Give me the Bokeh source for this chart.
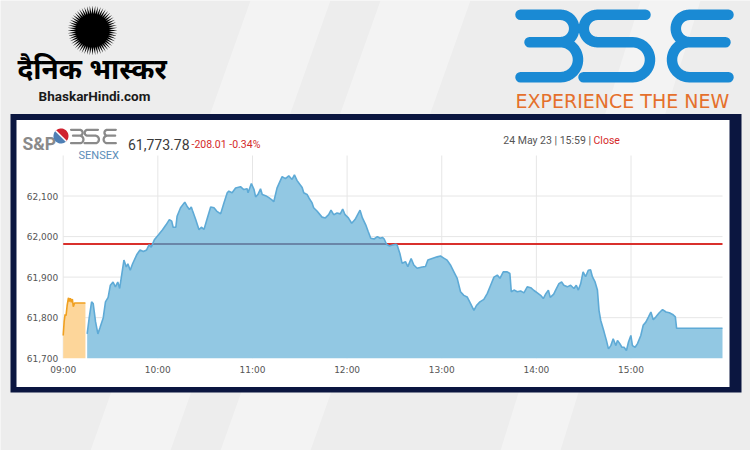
import numpy as np
from bokeh.plotting import figure
from bokeh.models import Range1d, ColumnDataSource
from bokeh.core.properties import value
from bokeh.embed import file_html
from bokeh.resources import INLINE

# ---------------- data (minutes after 09:00, index value) ----------------
PRE_T = [0, 0.6, 1.2, 1.8, 2.5, 3.3, 3.9, 4.5, 5.2, 5.8, 6.4, 7.2, 14.1]
PRE_V = [61756, 61790, 61808, 61805, 61830, 61849, 61840, 61848, 61838, 61846, 61827, 61836, 61836]

SESS_T = [15.2, 16.5, 18.0, 19.0, 20.5, 22.0, 23.3, 25.4, 26.8, 28.5, 29.9, 31.6, 33.1, 34.6, 35.8,
          38.5, 40.0, 41.0, 42.5, 44.0, 46.6, 48.7, 50.8, 52.9, 54.5, 55.8, 57.8, 60.3, 63.0, 65.2,
          67.3, 68.8, 69.7, 71.4, 72.2, 74.4, 77.1, 78.5, 80.0, 81.2, 81.9, 84.0, 86.1, 87.6, 89.3,
          91.4, 93.5, 95.6, 97.3, 99.8, 101.9, 104.0, 105.0, 107.1, 109.3, 112.4, 114.5, 116.6, 117.2,
          119.3, 121.0, 122.0, 123.5, 125.1, 126.2, 128.3, 130.4, 132.5, 133.5, 135.6, 138.8, 140.9,
          143.0, 145.1, 146.6, 148.3, 151.5, 152.5, 154.6, 156.3, 157.8, 158.8, 160.9, 164.1, 166.2,
          168.3, 169.8, 171.5, 173.6, 175.7, 177.2, 178.7, 180.8, 182.9, 185.0, 188.2, 189.7, 191.8,
          193.3, 195.0, 197.1, 199.2, 200.9, 202.4, 203.5, 205.0, 206.7, 208.8, 210.9, 211.7, 213.4,
          214.9, 217.0, 218.5, 220.6, 222.3, 224.4, 227.6, 229.7, 231.2, 233.9, 237.1, 239.2, 241.3,
          243.4, 245.5, 247.7, 249.8, 251.9, 254.0, 256.1, 258.2, 260.4, 262.0, 264.2, 266.7, 268.9,
          271.0, 273.1, 275.2, 276.9, 279.0, 281.5, 283.2, 284.1, 285.8, 287.9, 290.0, 292.1, 294.2,
          296.4, 298.5, 300.6, 302.7, 304.4, 306.0, 307.6, 308.8, 311.0, 312.2, 314.3, 316.0, 317.4,
          319.6, 321.7, 323.8, 325.3, 326.6, 328.1, 329.6, 331.2, 332.9, 334.4, 335.5, 337.2, 338.7,
          339.7, 340.8, 342.9, 344.4, 345.7, 347.2, 348.7, 350.4, 351.4, 352.9, 354.2, 355.6, 357.1,
          358.4, 359.9, 360.9, 362.6, 364.1, 366.2, 367.7, 369.4, 371.1, 372.6, 374.1, 375.8, 377.9,
          380.0, 382.2, 384.3, 386.4, 388.1, 388.9, 418.0]
SESS_V = [61760, 61800, 61839, 61835, 61790, 61760, 61775, 61800, 61839, 61850, 61880, 61888, 61876, 61888, 61872,
          61942, 61925, 61933, 61917, 61933, 61955, 61967, 61963, 61967, 61980, 61974, 61992, 62004, 62017, 62029,
          62042, 62038, 62023, 62023, 62050, 62071, 62085, 62075, 62067, 62073, 62065, 62042, 62017, 62023, 62018,
          62046, 62073, 62071, 62063, 62056, 62083, 62108, 62112, 62108, 62120, 62123, 62116, 62118, 62108,
          62131, 62116, 62098, 62104, 62118, 62104, 62101, 62096, 62090, 62086, 62120, 62148, 62143,
          62150, 62141, 62152, 62138, 62121, 62108, 62104, 62092, 62083, 62071, 62063, 62048, 62046,
          62054, 62065, 62054, 62058, 62056, 62068, 62054, 62046, 62033, 62042, 62065, 62046, 62029,
          62013, 61996, 61994, 62000, 61996, 61998, 61994, 61981, 61977, 61979, 61981, 61979, 61959,
          61934, 61938, 61926, 61946, 61930, 61922, 61925, 61926, 61942, 61946, 61950, 61952, 61947,
          61942, 61930, 61913, 61897, 61864, 61855, 61851, 61835, 61818, 61830, 61839, 61845, 61860,
          61880, 61900, 61905, 61897, 61913, 61913, 61909, 61864, 61868, 61864, 61866, 61861, 61876,
          61874, 61867, 61861, 61855, 61847, 61859, 61868, 61850, 61858, 61868, 61884, 61888, 61880,
          61876, 61880, 61872, 61880, 61868, 61884, 61913, 61901, 61917, 61918, 61901, 61888, 61868,
          61818, 61793, 61765, 61744, 61723, 61731, 61748, 61731, 61744, 61736, 61727, 61727, 61719,
          61740, 61756, 61731, 61727, 61736, 61756, 61781, 61789, 61802, 61814, 61795, 61802, 61812,
          61820, 61814, 61812, 61808, 61802, 61773.78, 61773.78]

PREV_CLOSE = 61981.79
LAST = 61773.78
CHANGE = -208.01
CHANGE_PCT = -0.34
STAMP = "24 May 23 | 15:59 |"
STATUS = "Close"

X_TICKS = [0, 60, 120, 180, 240, 300, 360]
X_LABELS = ["09:00", "10:00", "11:00", "12:00", "13:00", "14:00", "15:00"]
Y_TICKS = [61700, 61800, 61900, 62000, 62100]
X_MAX = 418
Y_MIN, Y_MAX = 61700, 62200

# ---------------- layout (page pixel coordinates) ----------------
W, H = 750, 450
PX0, PX1, PY0, PY1 = 0, W, 0, H                  # page area covered by the canvas
CL, CR, CT, CB = 62.7, 722.0, 155.0, 357.7       # chart plot box on the page

kx = (CR - CL) / X_MAX
ky = (CB - CT) / (Y_MAX - Y_MIN)
t_range = Range1d(-(CL - PX0) / kx, X_MAX + (PX1 - CR) / kx)
v_range = Range1d(Y_MIN - (PY1 - CB) / ky, Y_MAX + (CT - PY0) / ky)

p = figure(width=W, height=H, output_backend="svg", toolbar_location=None,
           x_range=Range1d(PX0, PX1), y_range=Range1d(PY1, PY0),
           x_axis_location=None, y_axis_location=None, min_border=0,
           outline_line_color=None, background_fill_color="#ededed", border_fill_color="#ededed")
p.grid.grid_line_color = None
p.extra_x_ranges = {"t": t_range}
p.extra_y_ranges = {"v": v_range}
C = dict(x_range_name="t", y_range_name="v")

# soft background streaks
p.patches(xs=[[250, 330, 170, 90], [380, 470, 310, 220], [640, 700, 560, 500]],
          ys=[[0, 0, 450, 450]] * 3, fill_color="white", fill_alpha=0.35, line_color=None)

# panel
p.quad(left=10, right=741, top=113.5, bottom=392, fill_color="#0b1640", line_color=None)
p.quad(left=16, right=729, top=119.5, bottom=386.5, fill_color="white", line_color=None)

# ---------------- chart ----------------
gx = ColumnDataSource(dict(x=X_TICKS, y0=[Y_MIN] * len(X_TICKS), y1=[Y_MAX] * len(X_TICKS)))
p.segment(x0="x", y0="y0", x1="x", y1="y1", source=gx, line_color="#e6e6e6", line_width=1, **C)
hy = Y_TICKS[1:]
gy = ColumnDataSource(dict(y=hy, x0=[0] * len(hy), x1=[X_MAX] * len(hy)))
p.segment(x0="x0", y0="y", x1="x1", y1="y", source=gy, line_color="#e6e6e6", line_width=1, **C)

p.varea(x=PRE_T, y1=[Y_MIN] * len(PRE_T), y2=PRE_V, fill_color="#fdd69a", fill_alpha=1, **C)
p.varea(x=SESS_T, y1=[Y_MIN] * len(SESS_T), y2=SESS_V, fill_color="#92c8e3", fill_alpha=1, **C)

# previous close: red on white, dark blue-grey where the area covers it
xs_d = np.linspace(0, X_MAX, 3000)
vals = np.interp(xs_d, SESS_T, SESS_V, left=Y_MIN)
cov = vals > PREV_CLOSE
cuts = np.flatnonzero(np.diff(cov.astype(int))) + 1
starts = np.r_[0, cuts]
ends = np.r_[cuts, len(xs_d) - 1]
seg = ColumnDataSource(dict(x0=xs_d[starts], x1=xs_d[ends], y=[PREV_CLOSE] * len(starts),
                            c=["#6a86a8" if cov[s] else "#d9302c" for s in starts]))
p.segment(x0="x0", y0="y", x1="x1", y1="y", line_color="c", line_width=2, source=seg, **C)

p.line(PRE_T, PRE_V, line_color="#f0a020", line_width=1.6, **C)
p.line(SESS_T, SESS_V, line_color="#5eaad6", line_width=1.6, **C)

# tick labels, placed through the chart scales
p.text(x=[0] * len(Y_TICKS), y=Y_TICKS, text=[f"{v:,}" for v in Y_TICKS], x_offset=-5,
       text_align="right", text_baseline="middle", text_font=value("DejaVu Sans"),
       text_font_size="9px", text_color="#555555", **C)
p.text(x=X_TICKS, y=[Y_MIN] * len(X_TICKS), text=X_LABELS, y_offset=7,
       text_align="center", text_baseline="top", text_font=value("DejaVu Sans"),
       text_font_size="9px", text_color="#555555", **C)

# ---------------- header inside panel ----------------
def arc(c0, c1, r, a0, a1, n=24):
    a = np.radians(np.linspace(a0, a1, n))
    return list(c0 + r * np.cos(a)), list(c1 + r * np.sin(a))

def lbl(x, y, txt, size, color, font="Roboto", style="normal", align="left", base="alphabetic"):
    p.text(x=[x], y=[y], text=[txt], text_font=value(font), text_font_size=size,
           text_font_style=style, text_color=color, text_align=align, text_baseline=base)

lbl(22, 143.5, "S&P", "17.5px", "#8a8a8a", style="bold")
for a0, a1, col in ((-135, 45, "#cf2230"), (45, 225, "#4f7fb4")):
    ax_, ay_ = arc(60.5, 135.5, 7.5, a0, a1)
    p.patch([60.5] + ax_, [135.5] + ay_, fill_color=col, line_color=None)
p.line([55.2, 65.8], [130.2, 140.8], line_color="white", line_width=1.5)

def bse_paths():
    r1, r2, ym, yb = 13.7, 17.5, 27.4, 62.4
    out = []
    def path(parts):
        xs, ys = [], []
        for part in parts:
            xs += list(part[0]); ys += list(part[1])
        return xs, ys
    out.append(path([([5, 45], [0, 0]), arc(45, r1, r1, -90, 90), ([45, 14, 45], [ym, ym, ym]),
                     arc(45, ym + r2, r2, -90, 90), ([45, 5], [yb, yb])]))
    out.append(path([([130, 82], [0, 0]), arc(82, r1, r1, -90, -270), ([82, 117], [ym, ym]),
                     arc(117, ym + r2, r2, -90, 90), ([117, 68], [yb, yb])]))
    out.append(path([([213, 174], [0, 0]), arc(174, r1, r1, -90, -270), ([174, 210, 174], [ym, ym, ym]),
                     arc(174, ym + r2, r2, -90, -270), ([174, 213], [yb, yb])]))
    return out

def draw_bse(ox, oy, s, width, color):
    paths = bse_paths()
    p.multi_line(xs=[[ox + s * x for x in xs] for xs, _ in paths],
                 ys=[[oy + s * y for y in ys] for _, ys in paths],
                 line_color=color, line_width=width, line_join="round", line_cap="round")

draw_bse(69.5, 129.3, 0.215, 2.3, "#8a8a8a")
lbl(78, 155, "SENSEX", "11px", "#5b8db8")
lbl(127.5, 143.5, f"{LAST:,.2f}", "14px", "#3a3a3a")
lbl(191, 143.5, f"{CHANGE:.2f} {CHANGE_PCT:.2f}%", "10.5px", "#d42a2a")
lbl(590.5, 140, STAMP, "10.5px", "#555555", align="right")
lbl(593, 140, STATUS, "10.5px", "#d42a2a")

# ---------------- logos above the panel ----------------
n = 56
ang = np.linspace(0, 2 * np.pi, 2 * n, endpoint=False)
rad = np.where(np.arange(2 * n) % 2 == 0, 25, 16.5)
p.patch(list(92 + rad * np.cos(ang)), list(30 + rad * np.sin(ang)), fill_color="black", line_color=None)
lbl(17, 67, "दैनिक भास्कर", "28px", "black", font="Noto Sans", style="bold", base="middle")
lbl(94, 95, "BhaskarHindi.com", "13.5px", "#1a1a1a", style="bold", align="center")

draw_bse(515, 14.3, 1.0, 10.5, "#1a8ad4")
lbl(515, 100, "EXPERIENCE THE NEW", "19px", "#e5702c", font="DejaVu Sans")

open("out.html", "w").write(file_html(p, INLINE))
